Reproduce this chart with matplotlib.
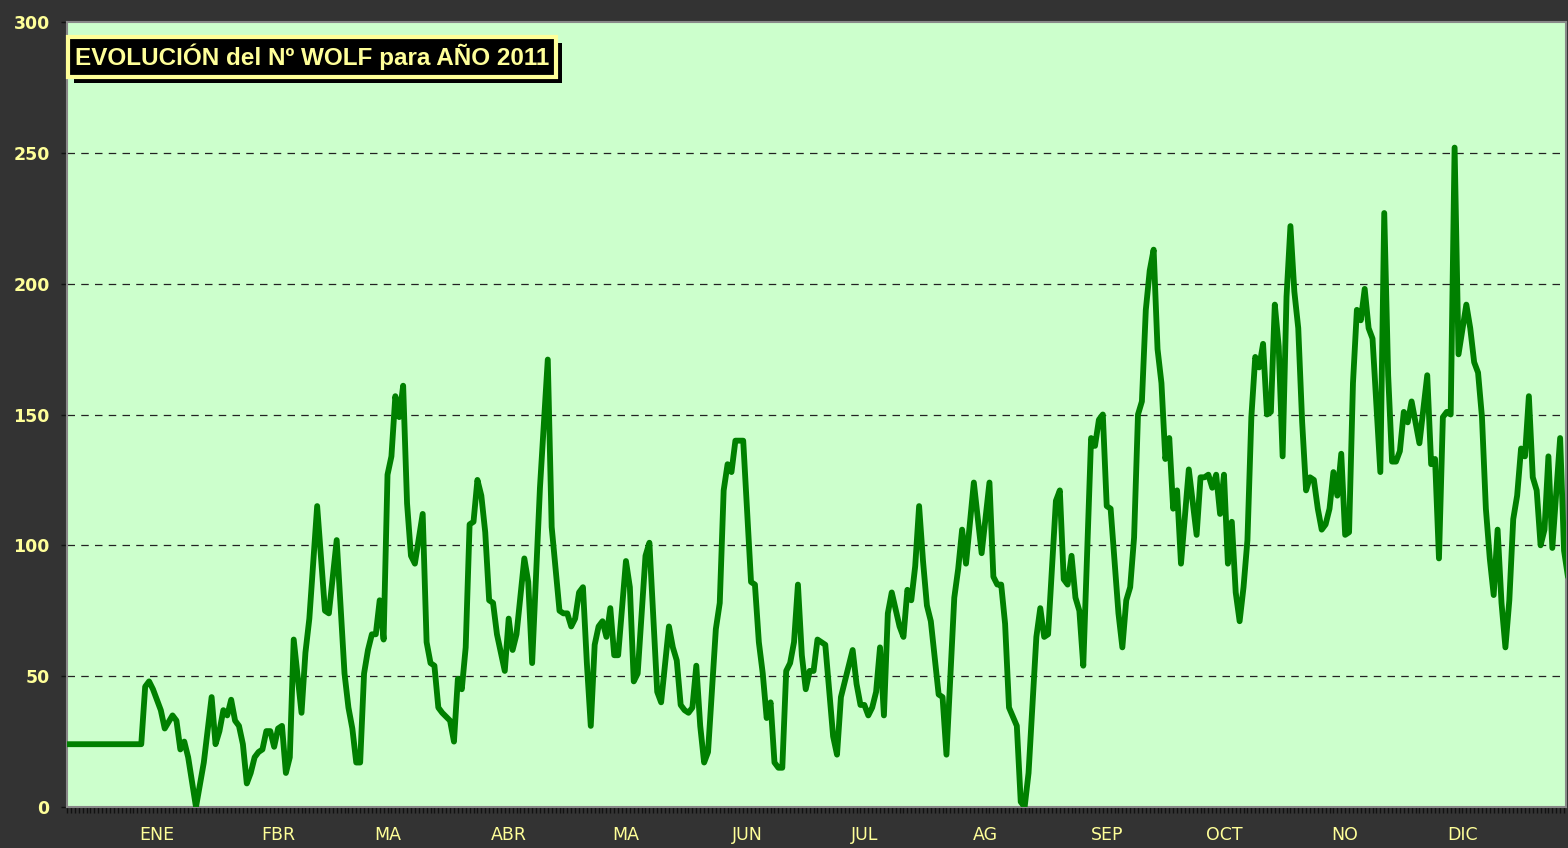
"""
wolf2011.py
"""
import matplotlib
matplotlib.use("Agg")
import matplotlib.pyplot as plt
import matplotlib.patheffects as pe
from matplotlib.ticker import MultipleLocator, FixedLocator

# day of year (0 = 1 January) and Wolf number
days = [-23, -4, -3, -2, -1, 0, 1, 2, 4, 5, 6, 7, 8, 10, 12, 14, 15, 16, 17, 18,
        19, 20, 21, 22, 23, 24, 25, 26, 27, 28, 29, 30, 31, 32, 33, 34, 35, 37, 38, 39,
        41, 43, 44, 46, 48, 49, 50, 51, 52, 53, 54, 55, 56, 57, 58, 59, 60, 61, 62, 63,
        64, 65, 66, 68, 69, 70, 71, 72, 73, 75, 76, 77, 78, 79, 80, 81, 82, 83, 84, 85,
        86, 87, 89, 90, 91, 92, 94, 95, 96, 98, 100, 101, 103, 104, 105, 106, 107, 108, 109, 110,
        111, 112, 113, 114, 115, 116, 117, 118, 120, 121, 122, 123, 125, 126, 128, 129, 131, 132, 133, 134,
        135, 136, 137, 138, 139, 140, 141, 143, 144, 145, 146, 147, 148, 150, 152, 153, 154, 155, 156, 157,
        158, 159, 160, 161, 162, 163, 164, 165, 166, 167, 168, 169, 171, 173, 174, 175, 178, 179, 180, 181,
        182, 183, 184, 185, 186, 187, 188, 190, 191, 192, 193, 194, 195, 196, 197, 198, 200, 201, 202, 204,
        205, 206, 207, 209, 211, 213, 214, 215, 216, 217, 218, 220, 221, 222, 223, 225, 226, 227, 228, 230,
        231, 232, 233, 234, 235, 236, 237, 239, 240, 241, 242, 243, 244, 246, 247, 248, 249, 250, 251, 252,
        253, 254, 255, 256, 257, 258, 259, 260, 261, 262, 264, 266, 267, 268, 269, 270, 271, 272, 273, 274,
        275, 276, 277, 278, 279, 280, 281, 282, 283, 284, 285, 286, 287, 288, 289, 290, 291, 292, 293, 294,
        295, 296, 297, 298, 299, 300, 301, 302, 303, 304, 305, 306, 307, 308, 309, 310, 311, 313, 314, 315,
        316, 317, 318, 319, 320, 321, 323, 325, 326, 327, 328, 329, 330, 331, 332, 333, 335, 336, 337, 338,
        339, 340, 341, 342, 343, 344, 345, 346, 347, 348, 349, 350, 351, 352, 353, 354, 355, 356, 357, 359,
        360, 361]
wolf = [24, 24, 46, 48, 45, 41, 37, 30, 35, 33, 22, 25, 19, 0, 17, 42, 24, 29, 37, 35,
        41, 33, 31, 24, 9, 13, 19, 21, 22, 29, 29, 23, 30, 31, 13, 19, 64, 36, 59, 72,
        115, 75, 74, 102, 51, 38, 30, 17, 17, 51, 60, 66, 66, 79, 64, 127, 134, 157, 149, 161,
        116, 96, 93, 112, 63, 55, 54, 38, 36, 33, 25, 49, 45, 61, 108, 109, 125, 119, 105, 79,
        78, 66, 52, 72, 60, 66, 95, 86, 55, 122, 171, 107, 75, 74, 74, 69, 72, 82, 84, 55,
        31, 62, 69, 71, 65, 76, 58, 58, 94, 84, 48, 51, 96, 101, 44, 40, 69, 61, 56, 39,
        37, 36, 38, 54, 31, 17, 21, 68, 78, 121, 131, 128, 140, 140, 86, 85, 63, 51, 34, 40,
        17, 15, 15, 52, 55, 63, 85, 58, 45, 52, 52, 64, 62, 27, 20, 42, 60, 47, 39, 39,
        35, 38, 44, 61, 35, 74, 82, 69, 65, 83, 79, 92, 115, 94, 77, 71, 43, 42, 20, 80,
        91, 106, 93, 124, 97, 124, 88, 85, 85, 70, 38, 31, 2, 0, 13, 65, 76, 65, 66, 117,
        121, 87, 85, 96, 80, 75, 54, 141, 138, 148, 150, 115, 114, 74, 61, 79, 84, 103, 150, 155,
        190, 205, 213, 175, 162, 133, 141, 114, 121, 93, 129, 104, 126, 126, 127, 122, 127, 112, 127, 93,
        109, 82, 71, 84, 102, 149, 172, 168, 177, 150, 151, 192, 176, 134, 195, 222, 197, 183, 147, 121,
        126, 125, 114, 106, 108, 114, 128, 119, 135, 104, 105, 162, 190, 186, 198, 183, 179, 128, 227, 165,
        132, 132, 136, 151, 147, 155, 139, 165, 131, 133, 95, 149, 151, 150, 252, 173, 192, 183, 170, 166,
        149, 114, 95, 81, 106, 78, 61, 79, 110, 119, 137, 134, 157, 126, 121, 100, 106, 134, 99, 141,
        98, 88]

month_days = [0, 31, 59, 90, 120, 151, 181, 212, 243, 273, 304, 334]
month_labels = ["ENE", "FBR", "MA", "ABR", "MA", "JUN", "JUL", "AG", "SEP", "OCT", "NO", "DIC"]
y_ticks = [0, 50, 100, 150, 200, 250, 300]

title = "EVOLUCIÓN del Nº WOLF para AÑO 2011"

bg = "#333333"
face = "#CCFFCC"
yellow = "#FFFF99"

fig = plt.figure(figsize=(15.68, 8.48), dpi=100, facecolor=bg)
ax = fig.add_axes([67/1568, 1 - 807/848, (1566 - 67)/1568, (807 - 22)/848])
ax.set_facecolor(face)

ax.plot(days, wolf, color="#008000", lw=4.2, solid_joinstyle="round",
        solid_capstyle="round", zorder=3)

ax.set_xlim(-23, 360.5)
ax.set_ylim(0, 300)

ax.yaxis.set_major_locator(FixedLocator(y_ticks))
ax.set_yticklabels([str(v) for v in y_ticks], fontsize=12.5, fontweight="bold",
                   color=yellow)
ax.xaxis.set_major_locator(FixedLocator(month_days))
ax.set_xticklabels(month_labels, fontsize=12.5, color=yellow)
ax.xaxis.set_minor_locator(MultipleLocator(1))

ax.tick_params(axis="y", length=4.5, width=1, color="#111111", pad=8)
ax.tick_params(axis="x", which="both", length=4, width=1, color="#111111",
               pad=10)

for v in y_ticks[1:-1]:
    ax.axhline(v, color="#222222", lw=0.9, dashes=(6, 5), zorder=1)

for s in ax.spines.values():
    s.set_color("#888888")
    s.set_linewidth(1.5)

# title box with a drop shadow
t = ax.text(0.0053, 0.972, title, transform=ax.transAxes, fontsize=17.5,
            family="Liberation Sans", fontweight="bold", color=yellow,
            va="top", ha="left", zorder=5,
            bbox=dict(boxstyle="square,pad=0.28", facecolor="black",
                      edgecolor=yellow, lw=3))
t.get_bbox_patch().set_path_effects([
    pe.SimplePatchShadow(offset=(4, -4), shadow_rgbFace="black", alpha=1.0),
    pe.Normal()])

fig.savefig("out.png", dpi=100, facecolor=bg)
